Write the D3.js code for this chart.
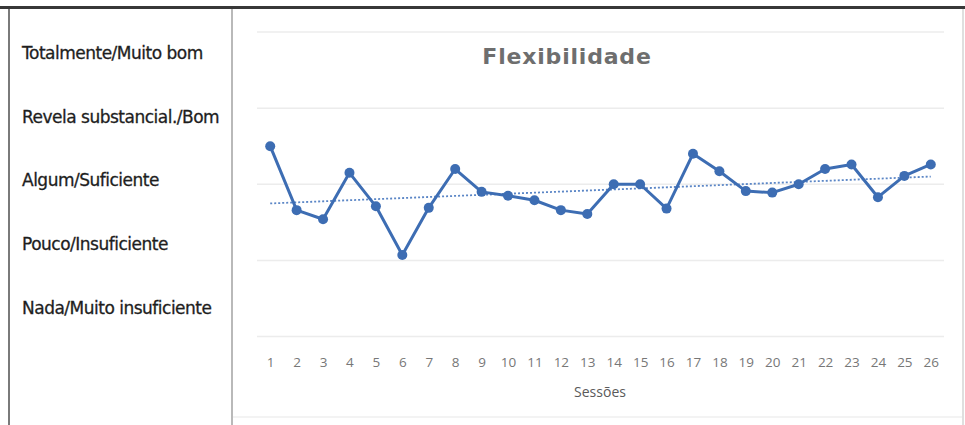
<!DOCTYPE html>
<html>
<head>
<meta charset="utf-8">
<script src="https://cdn.jsdelivr.net/npm/d3@7"></script>
<style>
  html, body { margin: 0; padding: 0; background: #fff; }
  svg { display: block; }
</style>
</head>
<body>
<svg id="chart" width="965" height="425"></svg>
<script>
// Rating scale shown in the left column of the table
const levelLabels = [
  "Totalmente/Muito bom",
  "Revela substancial./Bom",
  "Algum/Suficiente",
  "Pouco/Insuficiente",
  "Nada/Muito insuficiente"
];

// Sessions 1..26
const sessions = d3.range(1, 27).map(String);

// Mean "Flexibilidade" rating per session
const flexValues = [
  3.50, 2.66, 2.54, 3.15, 2.71, 2.07, 2.69, 3.20, 2.90, 2.85,
  2.79, 2.66, 2.61, 3.00, 3.00, 2.68, 3.40, 3.17, 2.91, 2.89,
  3.00, 3.20, 3.26, 2.83, 3.11, 3.26
];

// Value gridlines of the chart
const gridValues = [1, 2, 3, 4, 5];

const chartTitle = "Flexibilidade";
const xAxisTitle = "Sessões";

const svg = d3.select("#chart");
const blue = "#3d6db3";

// ---- table frame ----
svg.append("line").attr("x1", 0).attr("x2", 965).attr("y1", 7.5).attr("y2", 7.5)
  .attr("stroke", "#383838").attr("stroke-width", 3);
svg.append("line").attr("x1", 9).attr("x2", 9).attr("y1", 9).attr("y2", 425)
  .attr("stroke", "#7a7a7a").attr("stroke-width", 2);
svg.append("line").attr("x1", 232).attr("x2", 232).attr("y1", 9).attr("y2", 425)
  .attr("stroke", "#b9b9b9").attr("stroke-width", 2);
svg.append("line").attr("x1", 963).attr("x2", 963).attr("y1", 9).attr("y2", 425)
  .attr("stroke", "#d4d4d4").attr("stroke-width", 1.5);
svg.append("line").attr("x1", 233).attr("x2", 962).attr("y1", 417).attr("y2", 417)
  .attr("stroke", "#efefef").attr("stroke-width", 1.5);

// ---- rating labels column ----
const labelY = d3.scalePoint().domain(levelLabels).range([53, 308]);
svg.append("g").selectAll("text").data(levelLabels).join("text")
  .attr("x", 22)
  .attr("y", d => labelY(d))
  .attr("dy", "0.35em")
  .attr("font-family", "DejaVu Sans, sans-serif")
  .attr("font-size", 17)
  .attr("letter-spacing", "-0.5px")
  .attr("fill", "#1e1e1e")
  .attr("stroke", "#1e1e1e")
  .attr("stroke-width", 0.3)
  .text(d => d);

// ---- chart ----
const x = d3.scalePoint().domain(sessions).range([257, 944]).padding(0.5);
const y = d3.scaleLinear().domain([1, 5]).range([336.5, 32]);

// gridlines
svg.append("g").selectAll("line").data(gridValues).join("line")
  .attr("x1", 257).attr("x2", 944)
  .attr("y1", d => y(d)).attr("y2", d => y(d))
  .attr("stroke", "#ececec").attr("stroke-width", 1.5);

// title
svg.append("text")
  .attr("x", 567).attr("y", 56).attr("dy", "0.35em")
  .attr("text-anchor", "middle")
  .attr("font-family", "DejaVu Sans, sans-serif")
  .attr("font-weight", "bold")
  .attr("font-size", 22)
  .attr("letter-spacing", "0.8px")
  .attr("fill", "#6e6e6e")
  .text(chartTitle);

// x axis tick labels
const xAxis = d3.axisBottom(x).tickSize(0).tickPadding(0);
const gx = svg.append("g").attr("transform", "translate(0,357)").call(xAxis);
gx.select(".domain").remove();
gx.selectAll("text")
  .attr("font-family", "Open Sans, sans-serif")
  .attr("font-size", 13.5)
  .attr("fill", "#777");

// x axis title
svg.append("text")
  .attr("x", 600).attr("y", 392).attr("dy", "0.35em")
  .attr("text-anchor", "middle")
  .attr("font-family", "Open Sans, sans-serif")
  .attr("font-size", 14)
  .attr("fill", "#5a5a5a")
  .text(xAxisTitle);

// linear trend (least squares over session index)
const n = flexValues.length;
const idx = d3.range(1, n + 1);
const mx = d3.mean(idx), my = d3.mean(flexValues);
const slope = d3.sum(idx, (i, k) => (i - mx) * (flexValues[k] - my)) /
              d3.sum(idx, i => (i - mx) * (i - mx));
const icpt = my - slope * mx;
const trend = [idx[0], idx[n - 1]].map(i => ({ s: String(i), v: icpt + slope * i }));
svg.append("path")
  .datum(trend)
  .attr("d", d3.line().x(d => x(d.s)).y(d => y(d.v)))
  .attr("fill", "none")
  .attr("stroke", "#5b86c6")
  .attr("stroke-width", 1.8)
  .attr("stroke-dasharray", "2,2");

// data line and markers
const pts = sessions.map((s, i) => ({ s, v: flexValues[i] }));
svg.append("path")
  .datum(pts)
  .attr("d", d3.line().x(d => x(d.s)).y(d => y(d.v)))
  .attr("fill", "none")
  .attr("stroke", blue)
  .attr("stroke-width", 3)
  .attr("stroke-linejoin", "round");
svg.append("g").selectAll("circle").data(pts).join("circle")
  .attr("cx", d => x(d.s))
  .attr("cy", d => y(d.v))
  .attr("r", 5)
  .attr("fill", blue);
</script>
</body>
</html>
